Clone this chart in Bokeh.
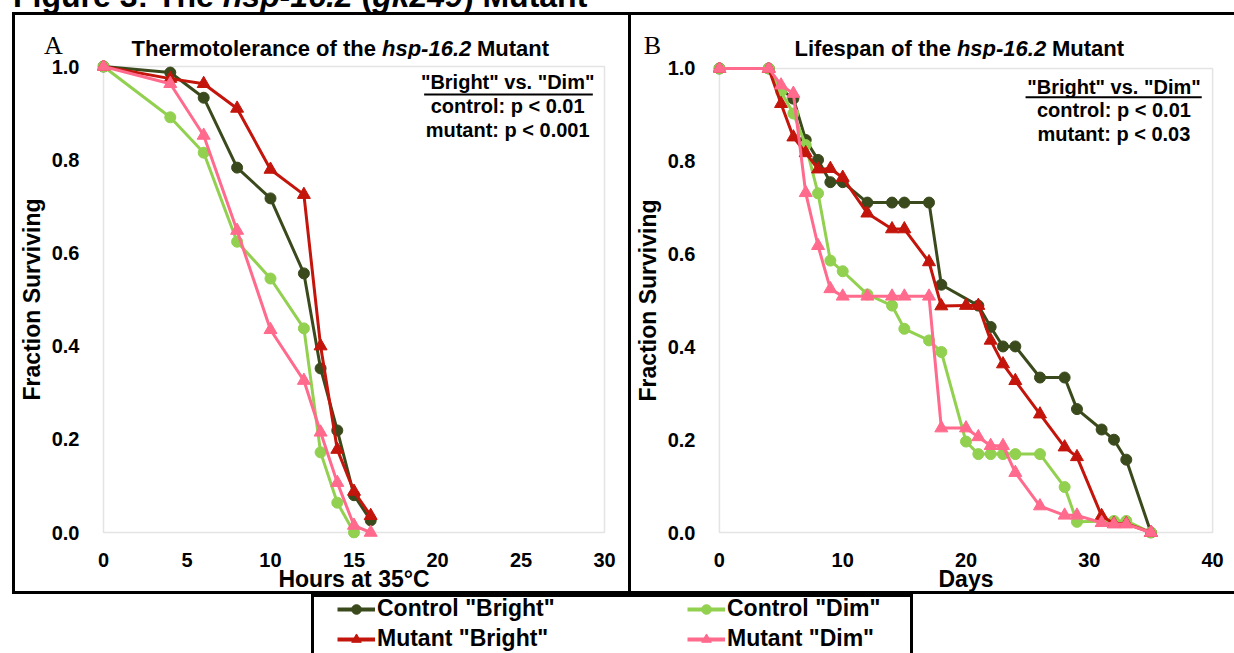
from bokeh.plotting import figure
from bokeh.models import (Range1d, FixedTicker, Label, BoxAnnotation, Legend, LegendItem,
                          Div, Spacer, NumeralTickFormatter)
from bokeh.layouts import column, row
from bokeh.embed import file_html
from bokeh.resources import INLINE

FONT = "Liberation Sans"
SERIF = "Liberation Serif"

# ---------------- data: panel A (thermotolerance) ----------------
hours_ctrl_bright = [0, 4, 6, 8, 10, 12, 13, 14, 15, 16]
frac_ctrl_bright = [1.0, 0.987, 0.933, 0.783, 0.717, 0.556, 0.352, 0.219, 0.080, 0.026]
hours_ctrl_dim = [0, 4, 6, 8, 10, 12, 13, 14, 15]
frac_ctrl_dim = [1.0, 0.891, 0.815, 0.624, 0.545, 0.438, 0.172, 0.064, 0.0]
hours_mut_bright = [0, 4, 6, 8, 10, 12, 13, 14, 15, 16]
frac_mut_bright = [1.0, 0.974, 0.963, 0.910, 0.779, 0.725, 0.400, 0.178, 0.088, 0.036]
hours_mut_dim = [0, 4, 6, 8, 10, 12, 13, 14, 15, 16]
frac_mut_dim = [1.0, 0.963, 0.852, 0.648, 0.435, 0.326, 0.215, 0.107, 0.015, 0.0]

# ---------------- data: panel B (lifespan) ----------------
days_ctrl_bright = [0, 4, 5, 6, 7, 8, 9, 10, 12, 14, 15, 17, 18, 21, 22, 23, 24, 26, 28, 29, 31, 32, 33, 35]
surv_ctrl_bright = [1.0, 1.0, 0.955, 0.935, 0.846, 0.803, 0.755, 0.755, 0.711, 0.711, 0.711, 0.711,
                    0.534, 0.489, 0.443, 0.401, 0.401, 0.334, 0.334, 0.266, 0.222, 0.200, 0.157, 0.0]
days_ctrl_dim = [0, 4, 5, 6, 7, 8, 9, 10, 12, 14, 15, 17, 18, 20, 21, 22, 23, 24, 26, 28, 29, 32, 33, 35]
surv_ctrl_dim = [1.0, 1.0, 0.950, 0.903, 0.835, 0.731, 0.586, 0.563, 0.513, 0.489, 0.439, 0.414,
                 0.389, 0.196, 0.169, 0.169, 0.169, 0.169, 0.169, 0.098, 0.023, 0.025, 0.025, 0.0]
days_mut_bright = [0, 4, 5, 6, 7, 8, 9, 10, 12, 14, 15, 17, 18, 20, 21, 22, 23, 24, 26, 28, 29, 31, 32, 33, 35]
surv_mut_bright = [1.0, 1.0, 0.924, 0.852, 0.818, 0.783, 0.784, 0.765, 0.688, 0.654, 0.654, 0.583,
                   0.488, 0.489, 0.489, 0.414, 0.363, 0.327, 0.255, 0.184, 0.163, 0.036, 0.019, 0.019, 0.0]
days_mut_dim = [0, 4, 5, 6, 7, 8, 9, 10, 12, 14, 15, 17, 18, 20, 21, 22, 23, 24, 26, 28, 29, 31, 32, 33, 35]
surv_mut_dim = [1.0, 1.0, 0.964, 0.946, 0.732, 0.618, 0.525, 0.509, 0.509, 0.509, 0.509, 0.509,
                0.225, 0.225, 0.206, 0.187, 0.187, 0.129, 0.057, 0.037, 0.037, 0.021, 0.018, 0.018, 0.0]

series_names = ['Control "Bright"', 'Control "Dim"', 'Mutant "Bright"', 'Mutant "Dim"']
series_colors = ["#3b4a1d", "#92d050", "#c3150b", "#ff6a8d"]
series_markers = ["circle", "circle", "triangle", "triangle"]

y_ticks = [0.0, 0.2, 0.4, 0.6, 0.8, 1.0]
x_ticks_a = [0, 5, 10, 15, 20, 25, 30]
x_ticks_b = [0, 10, 20, 30, 40]

stats_a = ['"Bright" vs. "Dim"', "control: p < 0.01", "mutant: p < 0.001"]
stats_b = ['"Bright" vs. "Dim"', "control: p < 0.01", "mutant: p < 0.03"]


def style_axes(p):
    p.xgrid.visible = False
    p.ygrid.visible = False
    p.outline_line_color = None
    for ax in p.xaxis + p.yaxis:
        ax.axis_line_color = None
        ax.major_tick_line_color = None
        ax.minor_tick_line_color = None
        ax.major_label_text_font = FONT
        ax.major_label_text_font_style = "bold"
        ax.major_label_text_font_size = "20px"
        ax.major_label_text_color = "black"
        ax.axis_label_text_font = FONT
        ax.axis_label_text_font_style = "bold"
        ax.axis_label_text_font_size = "23px"
        ax.axis_label_text_color = "black"
    p.yaxis.ticker = FixedTicker(ticks=y_ticks)
    p.yaxis.formatter = NumeralTickFormatter(format="0.0")
    p.yaxis.major_label_standoff = 12
    p.yaxis.axis_label_standoff = 4
    p.xaxis.major_label_standoff = 8
    p.xaxis.axis_label_standoff = -4


def add_series(p, xs_list, ys_list):
    for xs, ys, c, m in zip(xs_list, ys_list, series_colors, series_markers):
        p.line(xs, ys, line_color=c, line_width=3)
        p.scatter(xs, ys, marker=m, size=11 if m == "circle" else 13,
                  fill_color=c, line_color=c)


def add_stats(p, lines, xc, y0, dy, ul_left, ul_right, ul_y):
    for i, t in enumerate(lines):
        p.add_layout(Label(x=xc, y=y0 - i * dy, text=t, text_font=FONT,
                           text_font_style="bold", text_font_size="20px",
                           text_color="black", text_align="center",
                           text_baseline="middle"))
    p.segment(x0=[ul_left], y0=[ul_y], x1=[ul_right], y1=[ul_y],
              line_color="black", line_width=2)


def slabel(p, x, y, text, **kw):
    p.add_layout(Label(x=x, y=y, x_units="screen", y_units="screen", text=text,
                       text_baseline="middle", text_color="black", **kw))


HEADER_TOP = 15   # page y of header canvas top
HEADER_H = 44     # canvas height of panel header (page y 15..59)
HEADER_BOT = HEADER_TOP + HEADER_H
ITALIC_W = 89     # approx. width of the italic "hsp-16.2" at 22px
SPACE_W = 6


def make_header(width, borders, letter, letter_x, first, first_w, x1, title_y):
    h = figure(width=width, height=HEADER_H + 3, output_backend="svg", toolbar_location=None,
               x_range=Range1d(0, 1), y_range=Range1d(0, 1),
               x_axis_type=None, y_axis_type=None, frame_align=False,
               min_border=0, min_border_left=0, min_border_right=0, min_border_top=0,
               min_border_bottom=0, styles=borders)
    h.xgrid.visible = False
    h.ygrid.visible = False
    h.outline_line_color = None
    # screen coords relative to the header canvas (bottom-left origin)
    slabel(h, letter_x, HEADER_BOT - 42, letter, text_font=SERIF, text_font_size="26px",
           text_align="center")
    ty = HEADER_BOT - title_y
    x2 = x1 + first_w + SPACE_W
    x3 = x2 + ITALIC_W + SPACE_W
    slabel(h, x1, ty, first, text_font=FONT, text_font_style="bold",
           text_font_size="22px", text_align="left")
    slabel(h, x2, ty, "hsp-16.2", text_font=FONT, text_font_style="bold italic",
           text_font_size="22px", text_align="left")
    slabel(h, x3, ty, "Mutant", text_font=FONT, text_font_style="bold",
           text_font_size="22px", text_align="left")
    return h


# ---------------- panel A ----------------
sxA = 16.73
syA = 466.0
hA = make_header(619, {"border-top": "3px solid black", "border-left": "3px solid black",
                       "border-right": "3px solid black"},
                 "A", 53 - 15, "Thermotolerance of the", 244.5, 131 - 15, 45)
pA = figure(width=619, height=535, output_backend="svg", toolbar_location=None,
            x_range=Range1d(-6 / sxA, 30 + 6 / sxA), y_range=Range1d(-6 / syA, 1 + 6 / syA),
            min_border_left=75, min_border_right=24, min_border_top=1, min_border_bottom=53,
            frame_align=False,
            styles={"border-bottom": "3px solid black", "border-left": "3px solid black",
                    "border-right": "3px solid black"})
style_axes(pA)
pA.xaxis.ticker = FixedTicker(ticks=x_ticks_a)
pA.xaxis.axis_label = "Hours at 35°C"
pA.yaxis.axis_label = "Fraction Surviving"
pA.add_layout(BoxAnnotation(left=0, right=30, bottom=0, top=1, fill_color=None,
                            line_color="#a6a6a6", line_width=1.5, level="underlay"))
add_series(pA, [hours_ctrl_bright, hours_ctrl_dim, hours_mut_bright, hours_mut_dim],
           [frac_ctrl_bright, frac_ctrl_dim, frac_mut_bright, frac_mut_dim])
add_stats(pA, stats_a, 24.2, 0.966, 0.0515, 19.2, 29.3, 0.940)

# ---------------- panel B ----------------
sxB = 12.525
syB = 466.0
hB = make_header(603, {"border-top": "3px solid black"},
                 "B", 652 - 631, "Lifespan of the", 156.4, 794 - 631, 45)
pB = figure(width=603, height=535, output_backend="svg", toolbar_location=None,
            x_range=Range1d(-6 / sxB, 40 + 6 / sxB), y_range=Range1d(-6 / syB, 1 + 6 / syB),
            min_border_left=74, min_border_right=16, min_border_top=3, min_border_bottom=51,
            frame_align=False,
            styles={"border-bottom": "3px solid black"})
style_axes(pB)
pB.xaxis.ticker = FixedTicker(ticks=x_ticks_b)
pB.xaxis.axis_label = "Days"
pB.yaxis.axis_label = "Fraction Surviving"
pB.add_layout(BoxAnnotation(left=0, right=40, bottom=0, top=1, fill_color=None,
                            line_color="#a6a6a6", line_width=1.5, level="underlay"))
add_series(pB, [days_ctrl_bright, days_ctrl_dim, days_mut_bright, days_mut_dim],
           [surv_ctrl_bright, surv_ctrl_dim, surv_mut_bright, surv_mut_dim])
add_stats(pB, stats_b, 32.0, 0.961, 0.0515, 24.83, 39.12, 0.938)

# ---------------- legend panel ----------------
lf = figure(width=602, height=59, output_backend="svg", toolbar_location=None,
            x_range=Range1d(100, 101), y_range=Range1d(100, 101),
            x_axis_type=None, y_axis_type=None, frame_align=False,
            min_border=0, min_border_left=0, min_border_right=0, min_border_top=0,
            min_border_bottom=0,
            styles={"border-top": "3px solid black", "border-left": "3px solid black",
                    "border-right": "3px solid black"})
lf.xgrid.visible = False
lf.ygrid.visible = False
lf.outline_line_color = None
items = []
for name, xs, ys, c, m in zip(series_names,
                              [days_ctrl_bright, days_ctrl_dim, days_mut_bright, days_mut_dim],
                              [surv_ctrl_bright, surv_ctrl_dim, surv_mut_bright, surv_mut_dim],
                              series_colors, series_markers):
    r1 = lf.line(x=xs, y=ys, line_color=c, line_width=4)
    r2 = lf.scatter(x=xs, y=ys, marker=m, size=12, fill_color=c, line_color=c)
    items.append(LegendItem(label=name, renderers=[r1, r2]))


def mk_legend(its, loc):
    return Legend(items=its, location=loc, label_text_font=FONT, label_text_font_style="bold",
                  label_text_font_size="23px", label_text_color="black",
                  glyph_width=38, glyph_height=24, label_height=24, spacing=3,
                  padding=0, margin=0, label_standoff=2, border_line_color=None,
                  background_fill_alpha=0)


lf.add_layout(mk_legend([items[0], items[2]], (23, 4)))
lf.add_layout(mk_legend([items[1], items[3]], (373, 4)))

title = Div(text='<div style="position:relative; top:-19px; left:13px; font-family:\'Liberation Sans\'; '
                 'font-weight:bold; font-size:32px; line-height:31px; white-space:nowrap; color:black">'
                 'Figure 3: The <i>hsp-16.2</i> (<i>gk249</i>) Mutant</div>',
            width=700, height=12, margin=0,
            styles={"overflow": "visible"})

layout = column(title,
                row(Spacer(width=12, height=582), column(hA, pA), column(hB, pB)),
                row(Spacer(width=311, height=59), lf))

open("out.html", "w").write(file_html(layout, INLINE, "Figure 3"))
